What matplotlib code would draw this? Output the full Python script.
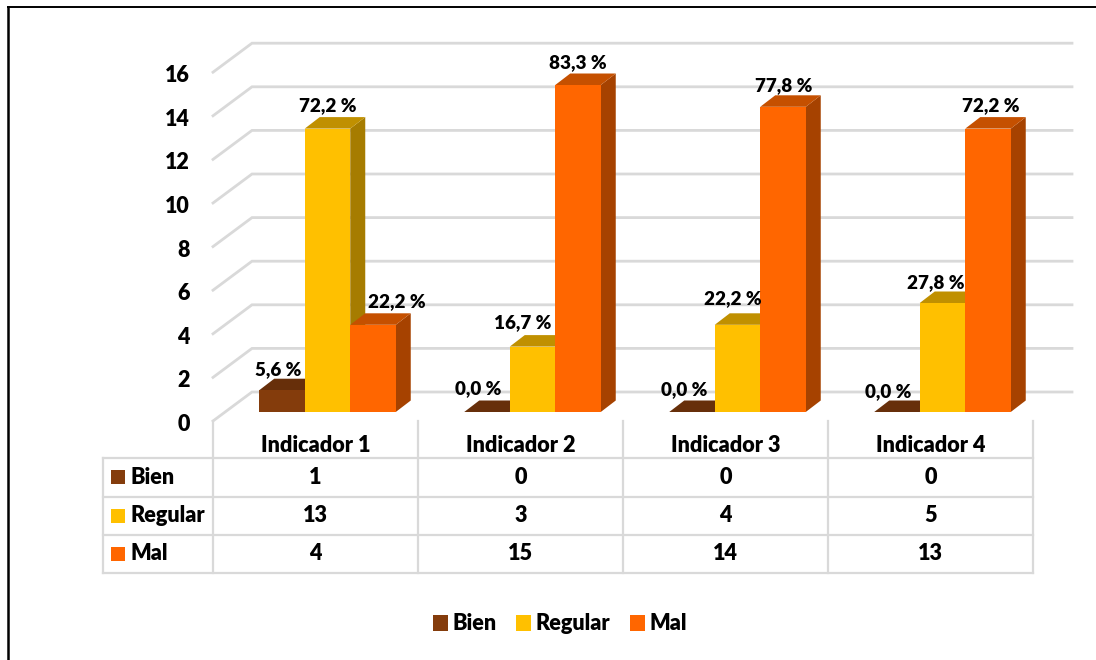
import matplotlib
matplotlib.use('Agg')
import matplotlib.pyplot as plt
from matplotlib.patches import Polygon, Patch

categorias = ['Indicador 1', 'Indicador 2', 'Indicador 3', 'Indicador 4']
series = ['Bien', 'Regular', 'Mal']
bien = [1, 0, 0, 0]
regular = [13, 3, 4, 5]
mal = [4, 15, 14, 13]
pct_bien = ['5,6 %', '0,0 %', '0,0 %', '0,0 %']
pct_regular = ['72,2 %', '16,7 %', '22,2 %', '27,8 %']
pct_mal = ['22,2 %', '83,3 %', '77,8 %', '72,2 %']
yticks = [0, 2, 4, 6, 8, 10, 12, 14, 16]

valores = [bien, regular, mal]
porcentajes = [pct_bien, pct_regular, pct_mal]

# front, top, side of every bar
colores = ['#843C0C', '#FFC000', '#FF6600']
techo = ['#672F0A', '#C09000', '#C55000']
lado = ['#5A2908', '#A67C00', '#A64200']
gris = '#D9D9D9'

plt.rcParams['font.family'] = ['Lato', 'DejaVu Sans']
plt.rcParams['font.weight'] = 'heavy'

# the axes fill the figure: one x unit = one category (205 px), y in values (21.8 px)
W, H = 1096, 660
PX, PY = 205.0, 21.8
X0, Y0 = 213, 421
fig = plt.figure(figsize=(W / 100, H / 100), dpi=100)
ax = fig.add_axes([0, 0, 1, 1])
ax.set_xlim(-X0 / PX, (W - X0) / PX)
ax.set_ylim((Y0 - H) / PY, Y0 / PY)
ax.axis('off')

def dx(p):
    return p / PX

def dy(p):
    return p / PY

# black frame of the picture, only top and left
ax.plot([dx(8 - X0), dx(W - X0)], [dy(Y0 - 7.5)] * 2, color='black', lw=1.4, zorder=1)
ax.plot([dx(8 - X0)] * 2, [dy(Y0 - 7.5), dy(Y0 - H)], color='black', lw=1.8, zorder=1)

# gridlines with the 3D wall
for t in yticks:
    ax.plot([0, dx(39), dx(859)], [t, t + dy(29), t + dy(29)], color=gris, lw=2, zorder=1,
            solid_joinstyle='miter')
    ax.text(dx(-23), t - dy(3.5), str(t), ha='right', va='center', fontsize=15.5, color='black')

# bars
ancho = 45.5 / PX
prof_x, prof_y = dx(15), dy(11.5)
base_x, base_y = dx(12), dy(9)
# nudges of the data labels in px, measured from the front top of each bar
desp_x = [[-4, -9, -8, -9], [0, -10, -5, -7], [24, 0, 1, 3]]
desp_y = [[21, 23, 22, 20], [23, 24, 26, 20], [23, 22, 21, 23]]
zo = 2
for i in range(len(categorias)):
    for j in range(len(series)):
        v = valores[j][i]
        xc = i + 0.5 + base_x + (j - 1) * ancho
        iz, de = xc - ancho / 2, xc + ancho / 2
        top = base_y + v
        ax.add_patch(Polygon([(de, base_y), (de + prof_x, base_y + prof_y),
                              (de + prof_x, top + prof_y), (de, top)],
                             facecolor=lado[j], edgecolor='none', zorder=zo))
        ax.add_patch(Polygon([(iz, top), (iz + prof_x, top + prof_y),
                              (de + prof_x, top + prof_y), (de, top)],
                             facecolor=techo[j], edgecolor='none', zorder=zo))
        ax.bar(xc, v, ancho, bottom=base_y, color=colores[j], zorder=zo)
        zo += 1

# data labels go on top of everything
for j in range(len(series)):
    for i in range(len(categorias)):
        xc = i + 0.5 + base_x + (j - 1) * ancho
        ax.text(xc + dx(desp_x[j][i]), base_y + valores[j][i] + dy(desp_y[j][i]),
                porcentajes[j][i], ha='center', va='center', fontsize=13.6,
                color='black', zorder=50)

# data table under the chart
fila_y = [458, 496.5, 535, 573]
col_x = [213, 418, 623, 828, 1033]
for p in col_x:
    ax.plot([dx(p - X0)] * 2, [0, dy(Y0 - 573)], color=gris, lw=1.6, zorder=1)
ax.plot([dx(103 - X0)] * 2, [dy(Y0 - 458), dy(Y0 - 573)], color=gris, lw=1.6, zorder=1)
for p in fila_y:
    ax.plot([dx(103 - X0), dx(1033 - X0)], [dy(Y0 - p)] * 2, color=gris, lw=1.6, zorder=1)

for i, c in enumerate(categorias):
    ax.text(i + 0.5, dy(Y0 - 445), c, ha='center', va='center', fontsize=15.6, color='black')
for j, s in enumerate(series):
    yc = dy(Y0 - (fila_y[j] + fila_y[j + 1]) / 2)
    ax.add_patch(Polygon([(dx(111 - X0), yc - dy(7)), (dx(125 - X0), yc - dy(7)),
                          (dx(125 - X0), yc + dy(7)), (dx(111 - X0), yc + dy(7))],
                         facecolor=colores[j], edgecolor='none', zorder=3))
    ax.text(dx(130 - X0), yc, s, ha='left', va='center', fontsize=15.6, color='black')
    for i in range(len(categorias)):
        ax.text(i + 0.5, yc, str(valores[j][i]), ha='center', va='center', fontsize=15.6,
                color='black')

# legend at the bottom
handles = [Patch(facecolor=colores[j], label=series[j]) for j in range(len(series))]
ax.legend(handles=handles, loc='center', bbox_to_anchor=(560 / W, 1 - 624 / H), ncol=3,
          frameon=False, fontsize=15.6, handlelength=0.7, handleheight=0.7,
          handletextpad=0.2, columnspacing=0.9, borderpad=0)

fig.savefig('out.png', dpi=100)
